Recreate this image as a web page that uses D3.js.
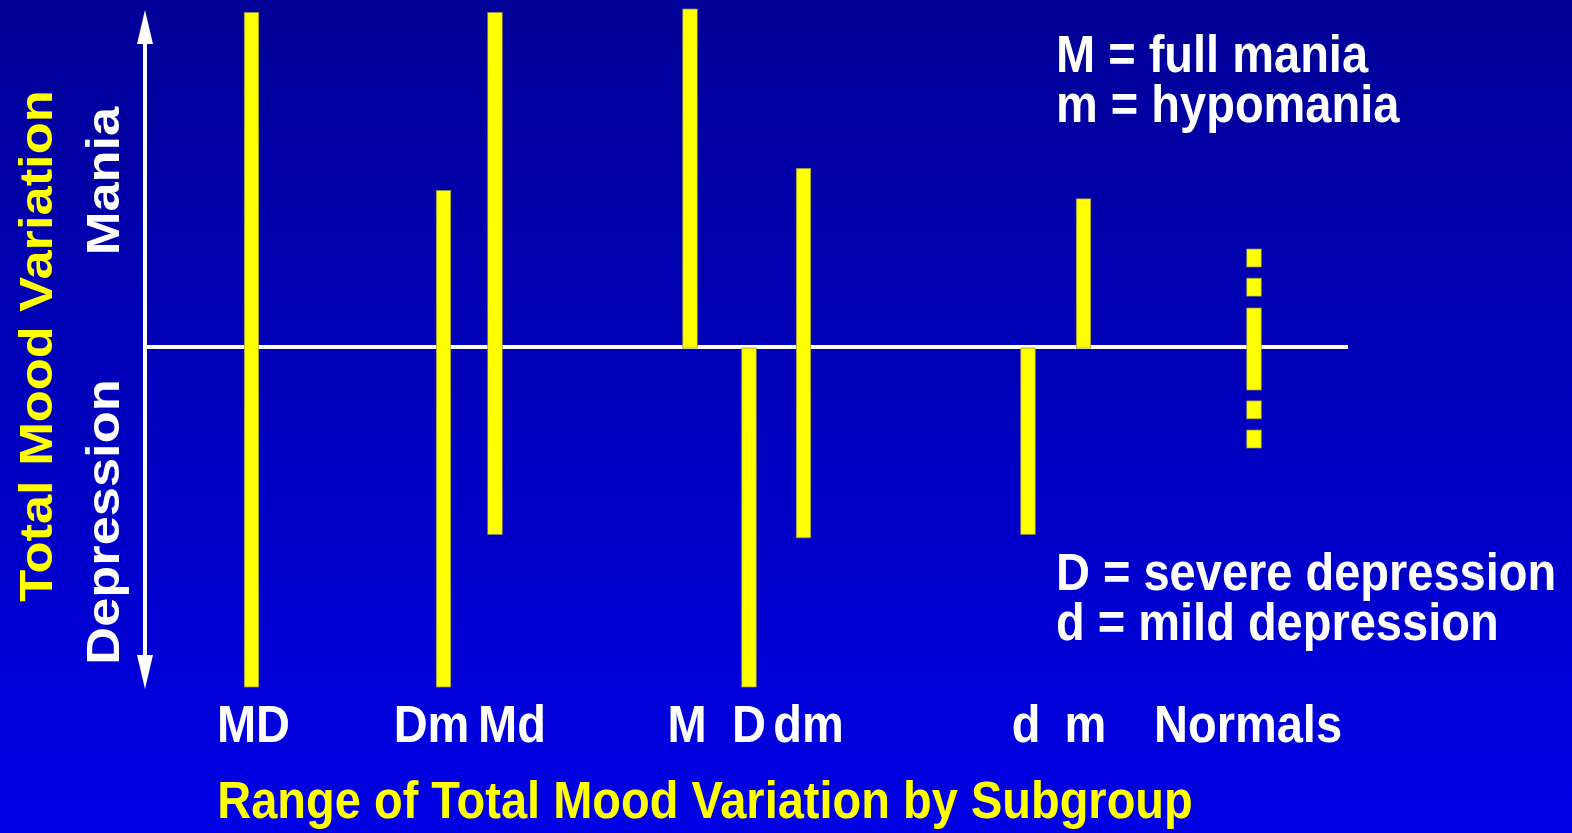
<!DOCTYPE html>
<html>
<head>
<meta charset="utf-8">
<script src="https://cdn.jsdelivr.net/npm/d3@7"></script>
<style>
  html, body { margin: 0; padding: 0; background: #0000c0; }
  svg { display: block; }
  text { font-family: "Liberation Sans", Arial, Helvetica, sans-serif; font-weight: bold; }
</style>
</head>
<body>
<script>
// Subgroups along the horizontal axis
const categories = ["MD", "Dm", "Md", "M", "D", "dm", "d", "m", "Normals"];
// Upper end of each subgroup's mood range (mania side, % of full scale)
const rangeHigh = [99, 46.5, 99, 100, 0, 53, 0, 44, 29.5];
// Lower end of each subgroup's mood range (depression side, % of full scale)
const rangeLow = [-100, -100, -55, 0, -100, -56, -55, 0, -29.5];
// Normals are drawn as a broken bar: pieces [from, to]
const normalPieces = [[29.2, 23.9], [20.6, 15.3], [11.8, -12.4], [-15.6, -20.9], [-24.2, -29.5]];
// Value axis end points
const yDomain = [-100, 100];

const legendTop = ["M = full mania", "m = hypomania"];
const legendBottom = ["D = severe depression", "d = mild depression"];
const xTitle = "Range of Total Mood Variation by Subgroup";
const yTitle = "Total Mood Variation";
const yUp = "Mania";
const yDown = "Depression";

const W = 1572, H = 833;
const stretch = 1.115;   // slides use a slightly tall lettering
const fontSize = 47;

const svg = d3.select("body").append("svg").attr("width", W).attr("height", H);

// background gradient
const defs = svg.append("defs");
const grad = defs.append("linearGradient").attr("id", "bg").attr("x1", 0).attr("y1", 0).attr("x2", 0).attr("y2", 1);
grad.append("stop").attr("offset", "0%").attr("stop-color", "#000096");
grad.append("stop").attr("offset", "100%").attr("stop-color", "#0000e6");
svg.append("rect").attr("width", W).attr("height", H).attr("fill", "url(#bg)");

// scales
const y = d3.scaleLinear().domain(yDomain).range([687, 9]);
const x = d3.scaleOrdinal().domain(categories)
  .range([251.5, 443.5, 495, 690, 749, 803.5, 1028, 1083.5, 1254]);
const labelShift = d3.scaleOrdinal().domain(categories)
  .range([2, -12, 17, -3, 0, 5, -2, 2, -6]);

const axisX = 145;
const barW = 14.5;

// horizontal zero line
svg.append("line")
  .attr("x1", axisX).attr("x2", 1348)
  .attr("y1", y(0) - 1).attr("y2", y(0) - 1)
  .attr("stroke", "#fff").attr("stroke-width", 4);

// vertical double-headed arrow
const tipTop = 10, tipBot = 689, head = 34, half = 8;
svg.append("line")
  .attr("x1", axisX).attr("x2", axisX)
  .attr("y1", tipTop + head - 2).attr("y2", tipBot - head + 2)
  .attr("stroke", "#fff").attr("stroke-width", 4);
svg.append("path")
  .attr("d", `M${axisX},${tipTop} L${axisX + half},${tipTop + head} L${axisX - half},${tipTop + head} Z`)
  .attr("fill", "#fff");
svg.append("path")
  .attr("d", `M${axisX},${tipBot} L${axisX + half},${tipBot - head} L${axisX - half},${tipBot - head} Z`)
  .attr("fill", "#fff");

// range bars
const bars = categories.map((c, i) => ({ c, hi: rangeHigh[i], lo: rangeLow[i] }))
  .filter(d => d.c !== "Normals");
svg.append("g").selectAll("rect").data(bars).join("rect")
  .attr("x", d => x(d.c) - barW / 2)
  .attr("width", barW)
  .attr("y", d => y(d.hi))
  .attr("height", d => y(d.lo) - y(d.hi))
  .attr("fill", "#ffff00")
  .attr("stroke", "#8c8c50").attr("stroke-width", 0.7);

// broken bar for normals
svg.append("g").selectAll("rect").data(normalPieces).join("rect")
  .attr("x", x("Normals") - barW / 2)
  .attr("width", barW)
  .attr("y", d => y(d[0]))
  .attr("height", d => y(d[1]) - y(d[0]))
  .attr("fill", "#ffff00")
  .attr("stroke", "#8c8c50").attr("stroke-width", 0.7);

// helper for tall horizontal text
function htext(str, tx, ty, color, anchor) {
  svg.append("text")
    .attr("transform", `translate(${tx},${ty}) scale(1,${stretch})`)
    .attr("text-anchor", anchor || "start")
    .attr("font-size", fontSize)
    .attr("fill", color)
    .text(str);
}
// helper for a two-line note block
function block(lines, tx, ty, lineGap) {
  const t = svg.append("text")
    .attr("transform", `translate(${tx},${ty}) scale(1,${stretch})`)
    .attr("font-size", fontSize)
    .attr("fill", "#fff");
  t.selectAll("tspan").data(lines).join("tspan")
    .attr("x", 0)
    .attr("y", (d, i) => i * lineGap / stretch)
    .text(d => d);
}
// helper for rotated text, reading upward
function vtext(str, tx, ty, color) {
  svg.append("text")
    .attr("transform", `translate(${tx},${ty}) scale(1,${stretch}) rotate(-90)`)
    .attr("text-anchor", "middle")
    .attr("font-size", fontSize)
    .attr("fill", color)
    .text(str);
}

// category labels
categories.forEach(c => htext(c, x(c) + labelShift(c), 742, "#fff", "middle"));

// legend notes
block(legendTop, 1056, 72, 50);
block(legendBottom, 1056, 590, 50);

// titles
htext(xTitle, 705, 818, "#ffff00", "middle");
vtext(yTitle, 52, 346, "#ffff00");
vtext(yUp, 119, 181, "#fff");
vtext(yDown, 119, 522, "#fff");
</script>
</body>
</html>
